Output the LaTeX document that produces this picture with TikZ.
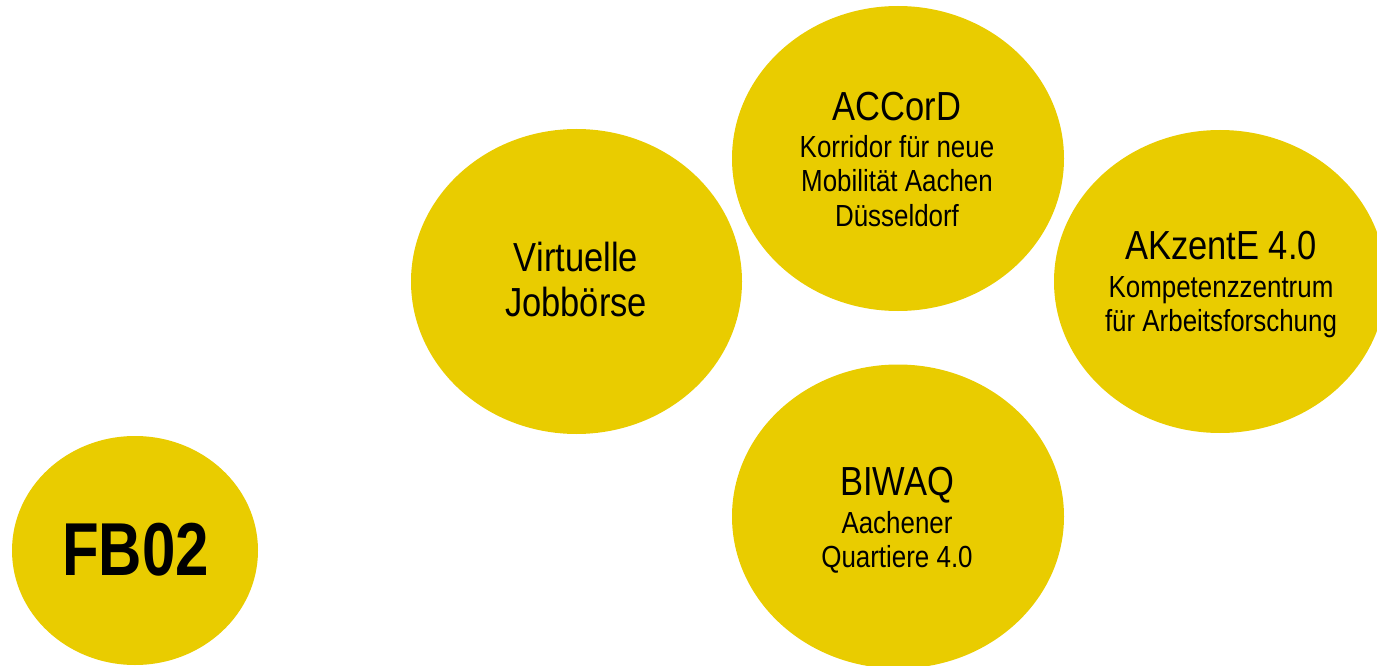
\documentclass[tikz,border=0pt]{standalone}
\usepackage{fontspec}
\usetikzlibrary{shapes.geometric}
\newfontfamily\labfont[FakeStretch=0.85]{Liberation Sans}
\newfontfamily\fbfont[FakeStretch=0.80]{Liberation Sans}
\definecolor{blobyellow}{RGB}{233,204,0}
\tikzset{
  blob/.style={ellipse, fill=blobyellow, draw=none, inner sep=0pt, outer sep=0pt,
    minimum width=332pt, minimum height=304pt},
  lbl/.style={inner sep=0pt, outer sep=0pt, anchor=base, text=black},
  ttl/.style={lbl, font=\labfont\fontsize{40.6pt}{46pt}\selectfont},
  sub/.style={lbl, font=\labfont\fontsize{30.5pt}{34pt}\selectfont},
}
\begin{document}
\begin{tikzpicture}[x=1pt,y=-1pt]
\useasboundingbox (0,0) rectangle (1377,666);
\clip (0,0) rectangle (1377,666);
% circles
\node[blob, minimum width=246pt, minimum height=229pt] (fb) at (135,550.5) {};
\node[blob, minimum width=331pt, minimum height=305pt] (vj) at (576.5,281.5) {};
\node[blob, minimum height=305pt] (acc) at (898,158.5) {};
\node[blob, minimum height=303pt] (akz) at (1220,281.5) {};
\node[blob] (biw) at (898,516.5) {};
% FB02
\node[lbl, font=\fbfont\bfseries\fontsize{75pt}{80pt}\selectfont] (fbt) at (135.5,575) {FB02};
% Virtuelle Jobbörse
\node[ttl] (vj1) at (576,271.5) {Virtuelle};
\node[ttl] (vj2) at (576,316.5) {Jobbörse};
% ACCorD
\node[ttl] (acc1) at (897,121) {ACCorD};
\node[sub] (acc2) at (897,158) {Korridor für neue};
\node[sub] (acc3) at (897,192) {Mobilität Aachen};
\node[sub] (acc4) at (897,226) {Düsseldorf};
% AKzentE
\node[ttl] (akz1) at (1221,259.5) {AKzentE 4.0};
\node[sub] (akz2) at (1221,297) {Kompetenzzentrum};
\node[sub] (akz3) at (1221,331) {für Arbeitsforschung};
% BIWAQ
\node[ttl] (biw1) at (897,495) {BIWAQ};
\node[sub] (biw2) at (897,533) {Aachener};
\node[sub] (biw3) at (897,567) {Quartiere 4.0};
\end{tikzpicture}
\end{document}
